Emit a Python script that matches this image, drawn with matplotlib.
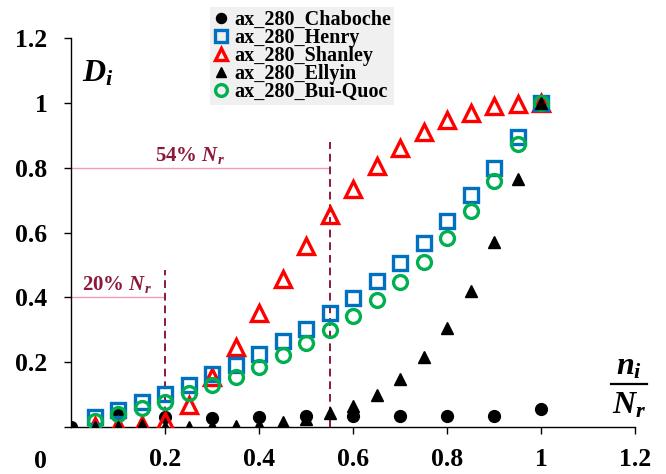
import matplotlib
matplotlib.use("Agg")
import matplotlib.pyplot as plt
from matplotlib.lines import Line2D

plt.rcParams["font.family"] = ["Liberation Serif", "DejaVu Serif"]
plt.rcParams["font.weight"] = "bold"
plt.rcParams["mathtext.fontset"] = "custom"
plt.rcParams["mathtext.rm"] = "Liberation Serif:bold"
plt.rcParams["mathtext.it"] = "Liberation Serif:italic:bold"
plt.rcParams["mathtext.bf"] = "Liberation Serif:bold"

# cycle ratio n_i / N_r
x_half = [0.05, 0.10, 0.15, 0.20, 0.25, 0.30, 0.35, 0.40, 0.45, 0.50,
          0.55, 0.60, 0.65, 0.70, 0.75, 0.80, 0.85, 0.90, 0.95, 1.00]
x_chaboche = [0.0, 0.1, 0.2, 0.3, 0.4, 0.5, 0.6, 0.7, 0.8, 0.9, 1.0]

# damage D_i per model
d_chaboche = [0.0, 0.037, 0.030, 0.028, 0.030, 0.034, 0.034, 0.034, 0.035, 0.035, 0.055]
d_henry = [0.031, 0.053, 0.077, 0.102, 0.130, 0.164, 0.192, 0.226, 0.266, 0.303,
           0.352, 0.399, 0.449, 0.507, 0.569, 0.637, 0.717, 0.800, 0.896, 1.000]
d_shanley = [0.002, 0.002, 0.006, 0.020, 0.068, 0.155, 0.246, 0.352, 0.457, 0.557,
             0.655, 0.733, 0.804, 0.862, 0.909, 0.946, 0.970, 0.989, 0.995, 1.000]
d_ellyin = [0.001, 0.001, 0.006, 0.001, 0.001, 0.003, 0.004, 0.006, 0.015, 0.025,
            0.043, 0.065, 0.100, 0.148, 0.217, 0.306, 0.420, 0.570, 0.764, 1.000]
d_buiquoc = [0.020, 0.040, 0.059, 0.077, 0.105, 0.130, 0.155, 0.186, 0.222, 0.259,
             0.300, 0.343, 0.393, 0.448, 0.510, 0.584, 0.665, 0.760, 0.872, 1.000]

x_ticks = [0.2, 0.4, 0.6, 0.8, 1.0, 1.2]
x_tick_labels = ["0.2", "0.4", "0.6", "0.8", "1", "1.2"]
y_ticks = [0.0, 0.2, 0.4, 0.6, 0.8, 1.0, 1.2]
y_tick_labels = ["", "0.2", "0.4", "0.6", "0.8", "1", "1.2"]

# reference fractions of life
frac_20 = 0.20
frac_54 = 0.55
d_20 = 0.40
d_54 = 0.80

fig = plt.figure(figsize=(6.66, 4.74), dpi=100)
ax = fig.add_axes([71 / 666, 1 - 427 / 474, 564 / 666, 389 / 474])
ax.set_xlim(0, 1.2)
ax.set_ylim(0, 1.2)

blue = "#0070C0"
red = "#FF0000"
green = "#00B050"
dark_red = "#8B1A3A"
pink = "#F29BB8"

# guide lines
ax.plot([0, frac_54], [d_54, d_54], color=pink, lw=1.0, zorder=1)
ax.plot([0, frac_20], [d_20, d_20], color=pink, lw=1.0, zorder=1)
ax.plot([frac_20, frac_20], [0, 0.485], color=dark_red, lw=1.4,
        dashes=(4, 2.5), zorder=1)
ax.plot([frac_54, frac_54], [0, 0.878], color=dark_red, lw=1.4,
        dashes=(4, 2.5), zorder=1)
ax.text(0.098, d_20 + 0.006, "20% $\\mathit{N_r}$", color=dark_red,
        fontsize=15, fontweight="bold", ha="center", va="bottom")
ax.text(0.253, d_54 + 0.006, "54% $\\mathit{N_r}$", color=dark_red,
        fontsize=15, fontweight="bold", ha="center", va="bottom")

mew = 2.4
ax.plot(x_chaboche, d_chaboche, ls="none", marker="o", ms=8.5,
        color="black", label="ax_280_Chaboche", zorder=3)
ax.plot(x_half, d_henry, ls="none", marker="s", ms=10, mfc="none",
        mec=blue, mew=mew, label="ax_280_Henry", zorder=4)
ax.plot(x_half, d_shanley, ls="none", marker="^", ms=11, mfc="none",
        mec=red, mew=mew, label="ax_280_Shanley", zorder=3.5)
ax.plot(x_half, d_ellyin, ls="none", marker="^", ms=8.5,
        color="black", label="ax_280_Ellyin", zorder=5)
ax.plot(x_half, d_buiquoc, ls="none", marker="o", ms=10, mfc="none",
        mec=green, mew=mew, label="ax_280_Bui-Quoc", zorder=4.5)

# axes styling
for side in ("top", "right"):
    ax.spines[side].set_visible(False)
for side in ("left", "bottom"):
    ax.spines[side].set_linewidth(1.0)
    ax.spines[side].set_color("black")
    ax.spines[side].set_zorder(2)

ax.set_xticks(x_ticks)
ax.set_xticklabels(x_tick_labels)
ax.set_yticks(y_ticks)
ax.set_yticklabels(y_tick_labels)
ax.tick_params(axis="both", direction="out", length=5, width=1.0,
               labelsize=18.5)
ax.tick_params(axis="y", pad=12)
ax.tick_params(axis="x", pad=10)
for lab in ax.get_xticklabels() + ax.get_yticklabels():
    lab.set_fontweight("bold")

ax.text(-0.066, -0.105, "0", fontsize=18.5, fontweight="bold",
        ha="center", va="center", clip_on=False)

# axis titles
ax.text(0.024, 1.09, "$\\mathit{D_i}$", fontsize=23, ha="left",
        va="center")
ax.text(1.187, 0.185, "$\\mathit{n_i}$", fontsize=23, ha="center",
        va="center", clip_on=False)
ax.add_line(Line2D([1.148, 1.226], [0.133, 0.133], color="black", lw=1.6,
                   clip_on=False))
ax.text(1.187, 0.066, "$\\mathit{N_r}$", fontsize=23, ha="center",
        va="center", clip_on=False)

leg = ax.legend(loc="upper left", bbox_to_anchor=(210 / 666, 1 - 7 / 474),
                bbox_transform=fig.transFigure,
                prop={"family": "Liberation Serif", "weight": "bold",
                      "size": 14.5},
                frameon=True, fancybox=False, borderpad=0.15,
                labelspacing=-0.1, handlelength=0.8, handletextpad=0.25,
                borderaxespad=0, markerscale=0.85)
leg.get_frame().set_facecolor("#F0F0F0")
leg.get_frame().set_edgecolor("none")
leg.get_frame().set_alpha(1.0)
leg.set_zorder(10)

fig.savefig("out.png", dpi=100)
